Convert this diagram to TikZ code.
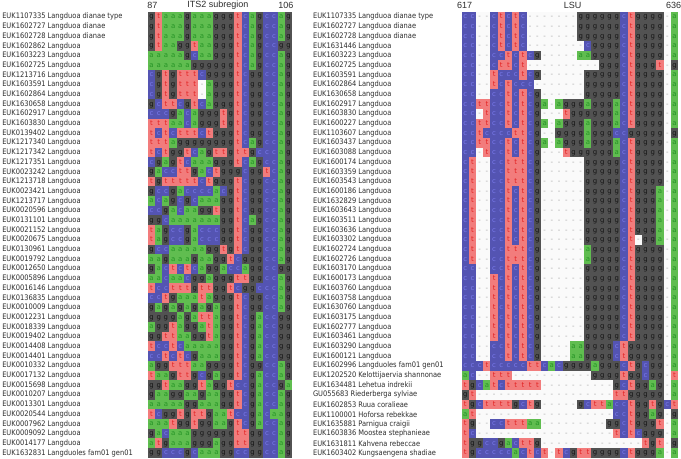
\documentclass[tikz,border=0pt]{standalone}
\usepackage{fontspec}
\newfontfamily\labfont{DejaVu Sans}[FakeStretch=0.88]
\newfontfamily\basefont{DejaVu Sans}
\newfontfamily\rulerfont{Liberation Sans}

\definecolor{seqA}{RGB}{96,189,80}
\definecolor{seqAtx}{RGB}{38,148,38}
\definecolor{seqC}{RGB}{84,84,178}
\definecolor{seqCtx}{RGB}{122,122,236}
\definecolor{seqG}{RGB}{82,82,82}
\definecolor{seqGtx}{RGB}{20,20,20}
\definecolor{seqT}{RGB}{242,124,124}
\definecolor{seqTtx}{RGB}{226,32,32}
\definecolor{seqGap}{RGB}{250,250,250}
\definecolor{seqGaptx}{RGB}{165,165,165}
\definecolor{labgray}{RGB}{45,45,45}

% cell size in pixels of the figure
\newcommand\cellw{7.22}
\newcommand\cellh{9.7}

% one alignment row: block, row number, bases
\newcounter{seqcol}
\newcommand\seqrow[3]{%
  \setcounter{seqcol}{0}%
  \def\seqblk{#1}\def\seqrw{#2}%
  \seqwalk#3\relax}
\newcommand\seqwalk[1]{%
  \ifx\relax#1\else
    \stepcounter{seqcol}\edef\seqc{\arabic{seqcol}}%
    \node[base #1] (\seqblk-\seqrw-\seqc)
      at ([shift={({(\seqc-.5)*\cellw},{(\seqrw-.5)*\cellh})}]\seqblk) {#1};%
    \expandafter\seqwalk
  \fi}

\begin{document}
\begin{tikzpicture}[
    x=0.75pt, y=-0.75pt,
    cell/.style={inner sep=0pt, minimum width=5.5pt, minimum height=7.35pt,
                 font=\basefont\fontsize{5.2}{6}\selectfont,
                 text height=2.9pt, text depth=0pt},
    base a/.style={cell, fill=seqA, text=seqAtx},
    base c/.style={cell, fill=seqC, text=seqCtx},
    base g/.style={cell, fill=seqG, text=seqGtx},
    base t/.style={cell, fill=seqT, text=seqTtx},
    base -/.style={cell, fill=seqGap, text=seqGaptx},
    taxon/.style={anchor=west, inner sep=0pt, text=labgray,
                  font=\labfont\fontsize{5.7}{6}\selectfont},
    ruler/.style={inner sep=0pt, text=labgray,
                  font=\rulerfont\fontsize{6.75}{7}\selectfont}
  ]
  \fill[white] (0,0) rectangle (681,459);
  \coordinate (its) at (148,12);
  \coordinate (lsu) at (462,12);

  % position rulers
  \node[ruler] (its-start) at (152.5,5) {87};
  \node[ruler] (its-title) at (218,5) {ITS2 subregion};
  \node[ruler] (its-end) at (286,5) {106};
  \node[ruler] (lsu-start) at (465,5) {617};
  \node[ruler] (lsu-title) at (573,5) {LSU};
  \node[ruler] (lsu-end) at (674,5) {636};

  % sequence names
  \foreach \t [count=\r] in {EUK1107335 Langduoa dianae type,
      EUK1602727 Langduoa dianae, EUK1602728 Langduoa dianae,
      EUK1602862 Langduoa, EUK1603223 Langduoa, EUK1602725 Langduoa,
      EUK1213716 Langduoa, EUK1603591 Langduoa, EUK1602864 Langduoa,
      EUK1630658 Langduoa, EUK1602917 Langduoa, EUK1603830 Langduoa,
      EUK0139402 Langduoa, EUK1217340 Langduoa, EUK1217342 Langduoa,
      EUK1217351 Langduoa, EUK0023242 Langduoa, EUK1213718 Langduoa,
      EUK0023421 Langduoa, EUK1213717 Langduoa, EUK0020596 Langduoa,
      EUK0131101 Langduoa, EUK0021152 Langduoa, EUK0020675 Langduoa,
      EUK0130961 Langduoa, EUK0019792 Langduoa, EUK0012650 Langduoa,
      EUK0005896 Langduoa, EUK0016146 Langduoa, EUK0136835 Langduoa,
      EUK0010009 Langduoa, EUK0012231 Langduoa, EUK0018339 Langduoa,
      EUK0019402 Langduoa, EUK0014408 Langduoa, EUK0014401 Langduoa,
      EUK0010332 Langduoa, EUK0017132 Langduoa, EUK0015698 Langduoa,
      EUK0010207 Langduoa, EUK0013301 Langduoa, EUK0020544 Langduoa,
      EUK0007962 Langduoa, EUK0009092 Langduoa, EUK0014177 Langduoa,
      EUK1632831 Langduoles fam01 gen01}
    \node[taxon] (its-name-\r) at ([shift={(-146,{(\r-.5)*\cellh})}]its) {\t};

  \foreach \t [count=\r] in {EUK1107335 Langduoa dianae type,
      EUK1602727 Langduoa dianae, EUK1602728 Langduoa dianae,
      EUK1631446 Langduoa, EUK1603223 Langduoa, EUK1602725 Langduoa,
      EUK1603591 Langduoa, EUK1602864 Langduoa, EUK1630658 Langduoa,
      EUK1602917 Langduoa, EUK1603830 Langduoa, EUK1600227 Langduoa,
      EUK1103607 Langduoa, EUK1603437 Langduoa, EUK1603088 Langduoa,
      EUK1600174 Langduoa, EUK1603359 Langduoa, EUK1603543 Langduoa,
      EUK1600186 Langduoa, EUK1632829 Langduoa, EUK1603643 Langduoa,
      EUK1603511 Langduoa, EUK1603636 Langduoa, EUK1603302 Langduoa,
      EUK1602724 Langduoa, EUK1602726 Langduoa, EUK1603170 Langduoa,
      EUK1600173 Langduoa, EUK1603760 Langduoa, EUK1603758 Langduoa,
      EUK1630760 Langduoa, EUK1603175 Langduoa, EUK1602777 Langduoa,
      EUK1603461 Langduoa, EUK1603290 Langduoa, EUK1600121 Langduoa,
      EUK1602996 Langduoles fam01 gen01,
      EUK1202520 Kelottijaervia shannonae, EUK1634481 Lehetua indrekii,
      GU055683 Riederberga sylviae, EUK1602853 Ruua coralieae,
      EUK1100001 Hoforsa rebekkae, EUK1635881 Parnigua craigii,
      EUK1603836 Moostea stephanieae, EUK1631811 Kahvena rebeccae,
      EUK1603402 Kungsaengena shadiae}
    \node[taxon] (lsu-name-\r) at ([shift={(-149,{(\r-.5)*\cellh})}]lsu) {\t};

  % ITS2 block, positions 87-106
  \seqrow{its}{1}{gtaaagaaagggtcagccag}
  \seqrow{its}{2}{gtaaagaaagggtcagccag}
  \seqrow{its}{3}{gtaaagaaagggtcagccag}
  \seqrow{its}{4}{gtaaggtaagggtcagccgg}
  \seqrow{its}{5}{aaaaagcaagggtcagccag}
  \seqrow{its}{6}{aaaaaaggggggtcagccag}
  \seqrow{its}{7}{cgtgtttcggggtcggccag}
  \seqrow{its}{8}{cgtgttt-agggtcggccag}
  \seqrow{its}{9}{cgtgttt-agggtcggccag}
  \seqrow{its}{10}{gcttcgtcagggtcggccag}
  \seqrow{its}{11}{cccgacagggtgtcggccag}
  \seqrow{its}{12}{tttaacagggtgtcggccag}
  \seqrow{its}{13}{tctctttctgggtcggccag}
  \seqrow{its}{14}{tttaggggggggtcagccag}
  \seqrow{its}{15}{tctggtcagttgttgcccag}
  \seqrow{its}{16}{cgagtcaaagggtcagccag}
  \seqrow{its}{17}{gaccttgactgggcggtcag}
  \seqrow{its}{18}{tgtttttctgggtcggccag}
  \seqrow{its}{19}{gccgaccccacgtcggccag}
  \seqrow{its}{20}{acagcgcaaaggtcggccag}
  \seqrow{its}{21}{ccgacaaggtggtcggccag}
  \seqrow{its}{22}{ggcaaaaaaaggtcagccag}
  \seqrow{its}{23}{tagccgacccggtcggccag}
  \seqrow{its}{24}{tagccgacccggtcggccag}
  \seqrow{its}{25}{gccaaaaaggtgtcggccag}
  \seqrow{its}{26}{aagaaagaaggtcgggccag}
  \seqrow{its}{27}{gactctcaggaccaggccgg}
  \seqrow{its}{28}{aacaacggagggttggccag}
  \seqrow{its}{29}{tcctttgttggtcggcccag}
  \seqrow{its}{30}{cctgaaatagggtcggccag}
  \seqrow{its}{31}{gagagagagaggtcggccag}
  \seqrow{its}{32}{ggggagattaggtcgaccgg}
  \seqrow{its}{33}{aggtaggataggtcgaccgg}
  \seqrow{its}{34}{ggttaaggtaggtcgaccgg}
  \seqrow{its}{35}{tcctcaaaaaggtcgaccgg}
  \seqrow{its}{36}{cctctcgaaaggtcgaccgg}
  \seqrow{its}{37}{aggtttaaggggtcggccag}
  \seqrow{its}{38}{taagttgcgaggtcgaccag}
  \seqrow{its}{39}{ggtaaggtaggtccgaccga}
  \seqrow{its}{40}{gaaggaagaaggtcgaccag}
  \seqrow{its}{41}{aaaaaggaaaggtcgaccag}
  \seqrow{its}{42}{tcggtgttgaatccgacaag}
  \seqrow{its}{43}{aaatggtggaagtcgaccag}
  \seqrow{its}{44}{gacaaaggggggttggccag}
  \seqrow{its}{45}{atgaaagggaggttggccag}
  \seqrow{its}{46}{ggcccgcaaaggccggccag}

  % LSU block, positions 617-636
  \seqrow{lsu}{1}{cc--ctctc-------ggggggctgggg-a}
  \seqrow{lsu}{2}{cc--ctctc-------ggggggctgggg-a}
  \seqrow{lsu}{3}{cc--ctctc-------ggggggctgggg-a}
  \seqrow{lsu}{4}{cc--ctctc--------cggggctgggg-a}
  \seqrow{lsu}{5}{cc--cctctcg-----aaggggctgggg-a}
  \seqrow{lsu}{6}{cc--cttct----------gggctgggt-g}
  \seqrow{lsu}{7}{cc--tccctcg------gggggctgggg-a}
  \seqrow{lsu}{8}{cc--tctccc-------gggggctgggg-a}
  \seqrow{lsu}{9}{cc--cctctcg------gggggctgggg-a}
  \seqrow{lsu}{10}{ccttcctctcga-agggagggactgggg-a}
  \seqrow{lsu}{11}{cc-tcctctcg---tggggggactgggg-a}
  \seqrow{lsu}{12}{ccttcctctcga-agggagggactgggg-a}
  \seqrow{lsu}{13}{cctccccttcg--ggggagggccggggg-g}
  \seqrow{lsu}{14}{ccttcctctcga-agggagggactgggg-a}
  \seqrow{lsu}{15}{cc-tcctctcg---tggggggactgggg-a}
  \seqrow{lsu}{16}{ct--cctttcg------gggggctgggg-a}
  \seqrow{lsu}{17}{ct--cctttcg------gggggctgggg-a}
  \seqrow{lsu}{18}{ct--cctttcg------gggggctgggg-a}
  \seqrow{lsu}{19}{ct--cctctcg------gggggctggga-a}
  \seqrow{lsu}{20}{ct--cctctcg------gggggctggga-a}
  \seqrow{lsu}{21}{ct--cctctcg------gggggctggga-a}
  \seqrow{lsu}{22}{ct--cctctcg------gggggctggga-a}
  \seqrow{lsu}{23}{ct--cctctcg------gggggctggga-a}
  \seqrow{lsu}{24}{ct--cctctcg------gggggct-gga-a}
  \seqrow{lsu}{25}{ct--cctttcg------aggggctgggg-a}
  \seqrow{lsu}{26}{ct--cctttcg------aggggctgggg-a}
  \seqrow{lsu}{27}{cc--cctctcg------gggggctgggg-a}
  \seqrow{lsu}{28}{cc--tctctcg------gggggctgggg-a}
  \seqrow{lsu}{29}{cc--tctctcg------gggggctgggg-a}
  \seqrow{lsu}{30}{cc--tctctcg------gggggctgggg-a}
  \seqrow{lsu}{31}{cc--tctctcg------gggggctgggg-a}
  \seqrow{lsu}{32}{cc--tctctcg------gggggctgggg-a}
  \seqrow{lsu}{33}{cc--tctctcg------gggggctgggg-a}
  \seqrow{lsu}{34}{cc--tctctcg------gggggctgggg-a}
  \seqrow{lsu}{35}{cc--cctctcg----aaggggctggggg-a}
  \seqrow{lsu}{36}{cc--cctctcg----aaggggctggggg-a}
  \seqrow{lsu}{37}{ccctcccccttcacggggagggctgcgg-a}
  \seqrow{lsu}{38}{ac--ttt-----------ggggtggcgg-t}
  \seqrow{lsu}{39}{tgcatcttttt----------gctggag-a}
  \seqrow{lsu}{40}{gt-------------------ttggggg-a}
  \seqrow{lsu}{41}{tgcttttgctg-----gcttacctggtgct}
  \seqrow{lsu}{42}{at-------------------cctggag-g}
  \seqrow{lsu}{43}{tg--cctttaa---------ggctgggt-a}
  \seqrow{lsu}{44}{tc-------------------tctcggg-a}
  \seqrow{lsu}{45}{tggccgacttg--------------tgt-g}
  \seqrow{lsu}{46}{tgcccccactct-tcgttggggctggga-a}
\end{tikzpicture}
\end{document}
